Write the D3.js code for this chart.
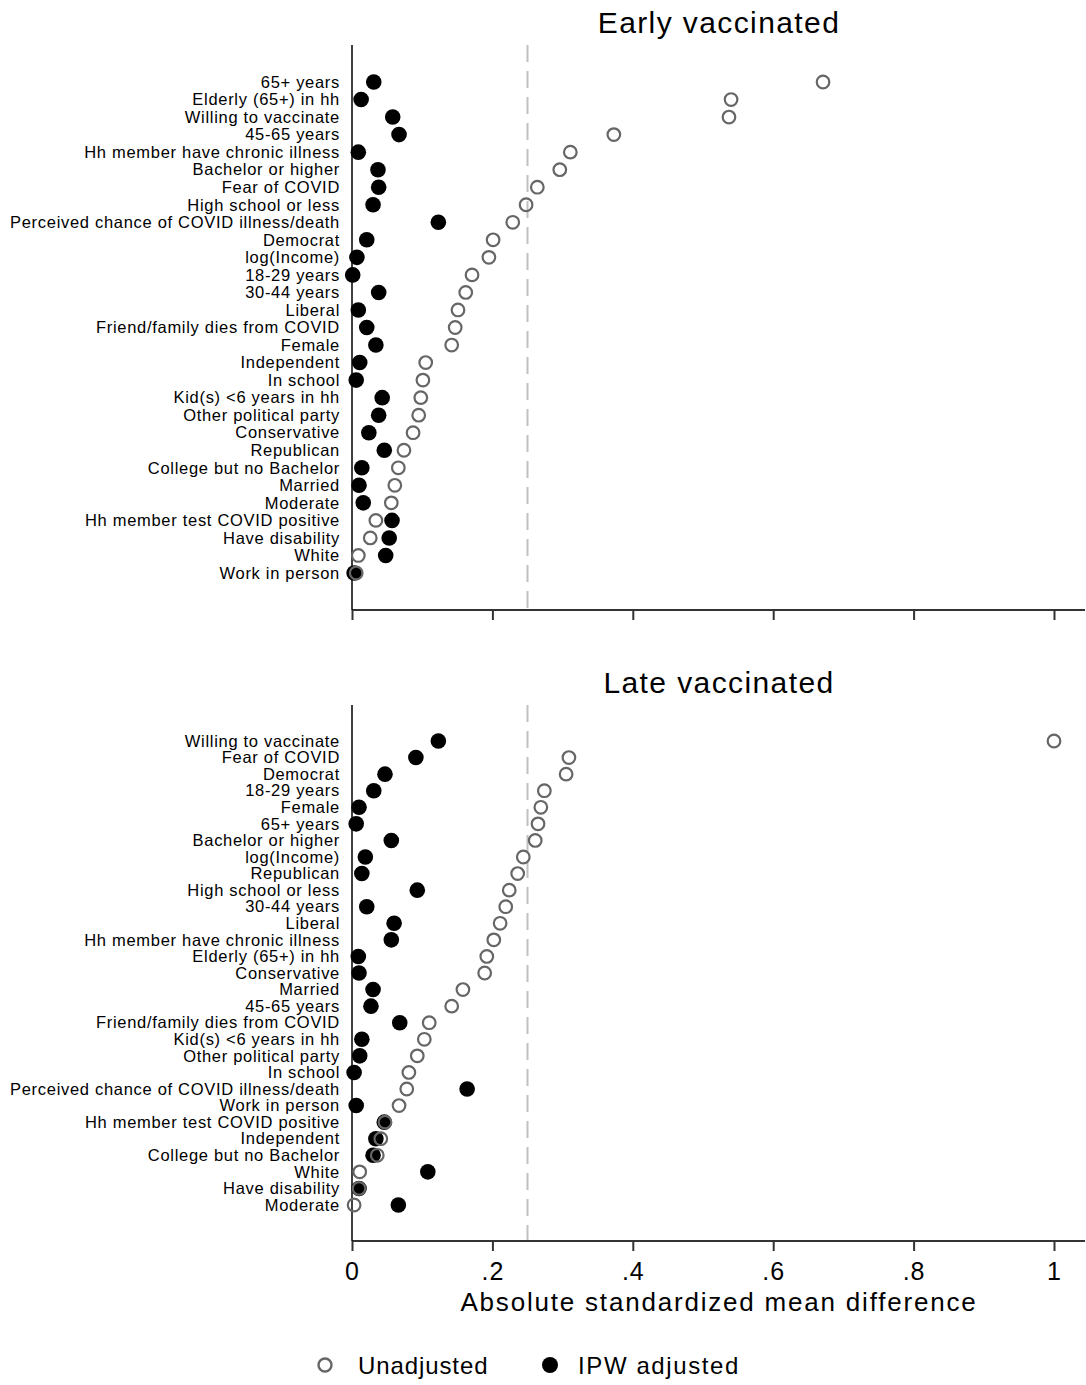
<!DOCTYPE html>
<html><head><meta charset="utf-8">
<script src="https://cdn.jsdelivr.net/npm/d3@7"></script>
<style>body{margin:0;background:#fff}svg{display:block}text{font-family:"Liberation Sans",Arial,Helvetica,sans-serif}</style>
</head><body>
<script>
const earlyCategories = ["65+ years","Elderly (65+) in hh","Willing to vaccinate","45-65 years","Hh member have chronic illness","Bachelor or higher","Fear of COVID","High school or less","Perceived chance of COVID illness/death","Democrat","log(Income)","18-29 years","30-44 years","Liberal","Friend/family dies from COVID","Female","Independent","In school","Kid(s) <6 years in hh","Other political party","Conservative","Republican","College but no Bachelor","Married","Moderate","Hh member test COVID positive","Have disability","White","Work in person"];
const earlyUnadjusted = [0.671,0.540,0.537,0.373,0.311,0.296,0.264,0.248,0.229,0.201,0.195,0.171,0.162,0.151,0.147,0.142,0.105,0.101,0.098,0.095,0.087,0.074,0.066,0.061,0.056,0.034,0.026,0.009,0.006];
const earlyAdjusted = [0.031,0.013,0.058,0.067,0.009,0.037,0.038,0.030,0.123,0.021,0.007,0.001,0.038,0.009,0.021,0.034,0.011,0.006,0.043,0.038,0.024,0.046,0.014,0.010,0.016,0.057,0.053,0.048,0.003];

const lateCategories = ["Willing to vaccinate","Fear of COVID","Democrat","18-29 years","Female","65+ years","Bachelor or higher","log(Income)","Republican","High school or less","30-44 years","Liberal","Hh member have chronic illness","Elderly (65+) in hh","Conservative","Married","45-65 years","Friend/family dies from COVID","Kid(s) <6 years in hh","Other political party","In school","Perceived chance of COVID illness/death","Work in person","Hh member test COVID positive","Independent","College but no Bachelor","White","Have disability","Moderate"];
const lateUnadjusted = [1.000,0.309,0.305,0.274,0.269,0.265,0.261,0.244,0.236,0.224,0.219,0.211,0.202,0.192,0.189,0.158,0.142,0.110,0.103,0.093,0.081,0.078,0.067,0.047,0.041,0.036,0.011,0.010,0.003];
const lateAdjusted = [0.123,0.091,0.047,0.031,0.010,0.006,0.056,0.019,0.014,0.093,0.021,0.060,0.056,0.009,0.010,0.030,0.027,0.068,0.014,0.011,0.003,0.164,0.006,0.046,0.034,0.030,0.108,0.010,0.066];

const xTicks = [0,0.2,0.4,0.6,0.8,1];
const xTickLabels = ["0",".2",".4",".6",".8","1"];
const threshold = 0.25;
const panelTitles = ["Early vaccinated","Late vaccinated"];
const legendLabels = ["Unadjusted","IPW adjusted"];
const axisTitle = "Absolute standardized mean difference";

const W = 1086, H = 1385;
const svg = d3.select("body").append("svg").attr("width",W).attr("height",H);
const x = d3.scaleLinear().domain([0,1]).range([352,1054]);
const gray = "#666666";

const panels = [
  {title:panelTitles[0], cats:earlyCategories, un:earlyUnadjusted, adj:earlyAdjusted, top:45, bottom:610, first:82, last:573, titleY:33, showLabels:false},
  {title:panelTitles[1], cats:lateCategories, un:lateUnadjusted, adj:lateAdjusted, top:705, bottom:1241, first:741, last:1205, titleY:693, showLabels:true}
];

panels.forEach(p => {
  const g = svg.append("g");
  const y = d3.scalePoint().domain(p.cats).range([p.first,p.last]);
  g.append("text").attr("x",719).attr("y",p.titleY).attr("text-anchor","middle")
    .attr("font-size",30).attr("letter-spacing",1.4).attr("fill","#000").text(p.title);
  g.append("line").attr("x1",x(threshold)).attr("x2",x(threshold))
    .attr("y1",p.top).attr("y2",p.bottom)
    .attr("stroke","#c0c0c0").attr("stroke-width",2).attr("stroke-dasharray","17,9");
  const xa = d3.axisBottom(x).tickValues(xTicks).tickSize(10)
    .tickFormat((d,i)=> p.showLabels ? xTickLabels[i] : "");
  const gx = g.append("g").attr("transform",`translate(0,${p.bottom})`).call(xa);
  gx.select(".domain").attr("d",`M${x(0)},0H1085`).attr("stroke","#333").attr("stroke-width",2);
  gx.selectAll(".tick line").attr("stroke","#333").attr("stroke-width",2);
  gx.selectAll(".tick text").attr("font-size",25).attr("letter-spacing",1).attr("fill","#000").attr("dy","1.05em")
    .attr("font-family",'"Liberation Sans",Arial,sans-serif');
  const ya = d3.axisLeft(y).tickSize(0).tickPadding(12);
  const gy = g.append("g").attr("transform",`translate(${x(0)},0)`).call(ya);
  gy.select(".domain").attr("d",`M0,${p.top}V${p.bottom}`).attr("stroke","#000").attr("stroke-width",1.5);
  gy.selectAll(".tick text").attr("font-size",16.5).attr("letter-spacing",0.7).attr("fill","#000")
    .attr("font-family",'"Liberation Sans",Arial,sans-serif');
  g.selectAll("circle.adj").data(p.cats).enter().append("circle").attr("class","adj")
    .attr("cx",(d,i)=>x(p.adj[i])).attr("cy",d=>y(d)).attr("r",7.8).attr("fill","#000");
  g.selectAll("circle.un").data(p.cats).enter().append("circle").attr("class","un")
    .attr("cx",(d,i)=>x(p.un[i])).attr("cy",d=>y(d)).attr("r",6.3)
    .attr("fill","none").attr("stroke",gray).attr("stroke-width",2.2);
});

svg.append("text").attr("x",719).attr("y",1311).attr("text-anchor","middle")
  .attr("font-size",26).attr("letter-spacing",1.8).attr("fill","#000").text(axisTitle);

const lg = svg.append("g");
lg.append("circle").attr("cx",325).attr("cy",1365).attr("r",6.5).attr("fill","none").attr("stroke",gray).attr("stroke-width",2.4);
lg.append("text").attr("x",358).attr("y",1374).attr("font-size",24).attr("letter-spacing",0.9).attr("fill","#000").text(legendLabels[0]);
lg.append("circle").attr("cx",550).attr("cy",1365).attr("r",8).attr("fill","#000");
lg.append("text").attr("x",578).attr("y",1374).attr("font-size",24).attr("letter-spacing",1.6).attr("fill","#000").text(legendLabels[1]);
</script>
</body></html>
